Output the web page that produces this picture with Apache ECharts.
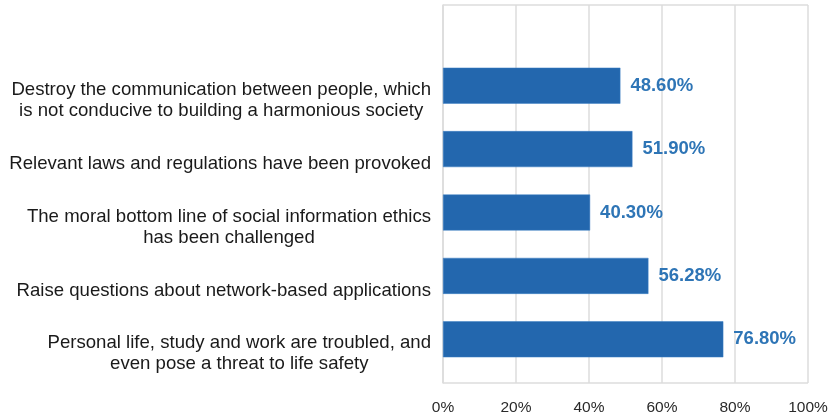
<!DOCTYPE html>
<html><head><meta charset="utf-8">
<script src="https://cdn.jsdelivr.net/npm/echarts@6/dist/echarts.min.js"></script>
<style>html,body{margin:0;padding:0;background:#fff}#c{width:831px;height:418px}</style>
</head><body><div id="c"></div>
<script>
const categories = [
  "Personal life, study and work are troubled, and\neven pose a threat to life safety",
  "Raise questions about network-based applications",
  "The moral bottom line of social information ethics\nhas been challenged",
  "Relevant laws and regulations have been provoked",
  "Destroy the communication between people, which\nis not conducive to building a harmonious society"
];
const values = [76.80, 56.28, 40.30, 51.90, 48.60];
const valueLabels = ["76.80%", "56.28%", "40.30%", "51.90%", "48.60%"];
const xTicks = [0, 20, 40, 60, 80, 100];

const chart = echarts.init(document.getElementById('c'), null, {renderer: 'canvas'});
chart.setOption({
  animation: false,
  grid: [
    {left: 443, width: 365, top: 5, height: 378, show: false},
    {left: 443, width: 365, top: 54, height: 317, show: false}
  ],
  xAxis: [
    {gridIndex: 0, type: 'value', min: 0, max: 100, interval: 20,
     axisLine: {show: false}, axisTick: {show: false},
     splitLine: {show: true, lineStyle: {color: '#dcdcdc', width: 1.5}},
     axisLabel: {margin: 17, fontFamily: 'Liberation Sans, Arial', fontSize: 15.5, color: '#2a2a2a',
       formatter: v => xTicks.includes(v) ? v + '%' : ''}},
    {gridIndex: 1, type: 'value', min: 0, max: 100, show: false}
  ],
  yAxis: [
    {gridIndex: 0, type: 'value', min: 0, max: 1, show: true,
     axisLine: {show: true, lineStyle: {color: '#dcdcdc', width: 1.5}},
     axisTick: {show: false}, axisLabel: {show: false}, splitLine: {show: true, lineStyle: {color: '#dcdcdc', width: 1.5}},
     interval: 1},
    {gridIndex: 1, type: 'category', data: categories,
     axisLine: {show: false}, axisTick: {show: false},
     axisLabel: {margin: 12, color: '#1a1a1a', fontFamily: 'Liberation Sans, Arial', fontSize: 18.6, lineHeight: 21,
       padding: [29, 0, 0, 0],
       formatter: v => v.split('\n').map(l => '{c|' + l + '}').join('\n'),
       rich: {c: {align: 'center', fontFamily: 'Liberation Sans, Arial', fontSize: 18.6, lineHeight: 21, color: '#1a1a1a'}}}}
  ],
  series: [{
    type: 'bar', xAxisIndex: 1, yAxisIndex: 1,
    data: values, barWidth: 36,
    itemStyle: {color: '#2367AE', borderColor: '#3a7fc4', borderWidth: 0.5},
    label: {show: true, position: 'right', distance: 10,
      formatter: p => valueLabels[p.dataIndex],
      color: '#2E75B6', fontWeight: 'bold', fontFamily: 'Liberation Sans, Arial', fontSize: 18.5}
  }]
});
</script></body></html>
